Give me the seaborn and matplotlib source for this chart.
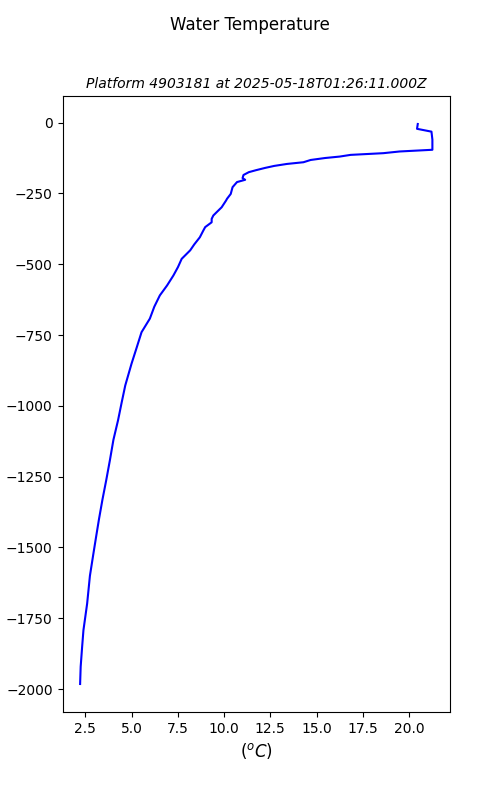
import pandas as pd
import matplotlib
matplotlib.use("Agg")
import matplotlib.pyplot as plt
import seaborn as sns

# ----------------------------
# DATA
# ----------------------------
depth = [-5, -22, -32, -60, -96, -102, -108, -114, -120, -125, -132, -140, -146,
         -153, -160, -168, -175, -185, -196, -202, -210, -228, -252, -269, -275,
         -299, -315, -328, -340, -352, -369, -381, -405, -430, -451, -481, -510,
         -540, -575, -610, -650, -692, -740, -800, -851, -928, -990, -1051,
         -1120, -1192, -1263, -1330, -1400, -1460, -1521, -1600, -1698, -1792,
         -1850, -1921, -1982]
temp = [20.47, 20.43, 21.21, 21.26, 21.26, 19.49, 18.61, 16.84, 16.25, 15.47,
        14.68, 14.29, 13.40, 12.71, 12.22, 11.73, 11.34, 11.05, 11.0, 11.14,
        10.70, 10.46, 10.36, 10.16, 10.11, 9.87, 9.62, 9.42, 9.33, 9.33, 8.98,
        8.88, 8.69, 8.39, 8.17, 7.71, 7.51, 7.26, 6.92, 6.53, 6.23, 5.99, 5.54,
        5.25, 5.0, 4.66, 4.46, 4.27, 4.02, 3.83, 3.63, 3.43, 3.24, 3.09, 2.94,
        2.75, 2.6, 2.4, 2.33, 2.25, 2.22]

platform = "4903181"
timestamp = "2025-05-18T01:26:11.000Z"

df = pd.DataFrame({"temp": temp, "depth": depth})

# ----------------------------
# PLOT
# ----------------------------
fig, ax = plt.subplots(figsize=(5, 8), dpi=100)
sns.lineplot(data=df, x="temp", y="depth", sort=False, estimator=None,
             color="blue", linewidth=1.5, ax=ax)

fig.suptitle("Water Temperature")
ax.set_title(f"Platform {platform} at {timestamp}", fontsize=10, style="italic")
ax.set_xlabel(r"($^oC$)", fontsize=12)
ax.set_ylabel("depth (m)")

fig.savefig("out.png", dpi=100)
